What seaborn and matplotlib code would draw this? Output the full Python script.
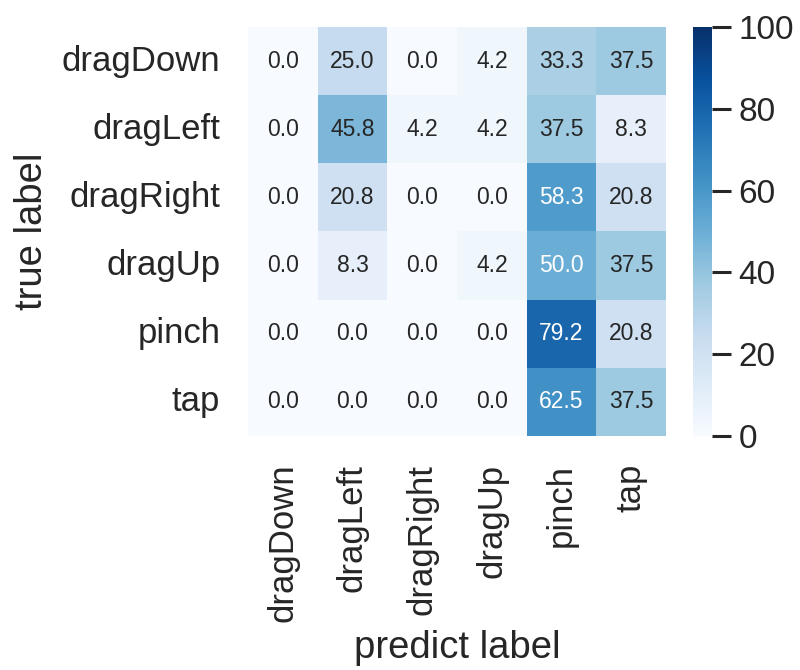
import numpy as np
import pandas as pd
import matplotlib
matplotlib.use("Agg")
import matplotlib.pyplot as plt
import seaborn as sns

# Gesture classes (rows: true label, columns: predicted label)
classes = ["dragDown", "dragLeft", "dragRight", "dragUp", "pinch", "tap"]

# Row-normalised confusion matrix, in percent
row_dragDown = [0.0, 25.0, 0.0, 4.2, 33.3, 37.5]
row_dragLeft = [0.0, 45.8, 4.2, 4.2, 37.5, 8.3]
row_dragRight = [0.0, 20.8, 0.0, 0.0, 58.3, 20.8]
row_dragUp = [0.0, 8.3, 0.0, 4.2, 50.0, 37.5]
row_pinch = [0.0, 0.0, 0.0, 0.0, 79.2, 20.8]
row_tap = [0.0, 0.0, 0.0, 0.0, 62.5, 37.5]

cm = pd.DataFrame(
    [row_dragDown, row_dragLeft, row_dragRight, row_dragUp, row_pinch, row_tap],
    index=classes, columns=classes,
)

sns.set_theme(style="white")
plt.rcParams["font.family"] = ["Liberation Sans", "DejaVu Sans"]
text_color = "#262626"

fig = plt.figure(figsize=(8.0, 6.7), dpi=100)
ax = fig.add_axes([0.31, 0.3493, 0.5225, 0.6104])
cax = fig.add_axes([0.866, 0.3493, 0.024, 0.6104])

sns.heatmap(
    cm, ax=ax, cbar_ax=cax, cmap="Blues", vmin=0, vmax=100,
    annot=True, fmt=".1f", annot_kws={"size": 16.5},
)

ax.tick_params(axis="both", length=0, pad=20, labelsize=25, colors=text_color)
plt.setp(ax.get_xticklabels(), rotation=90)
plt.setp(ax.get_yticklabels(), rotation=0)
ax.set_xlabel("predict label", fontsize=27.5, color=text_color)
ax.set_ylabel("true label", fontsize=27.5, color=text_color)
ax.yaxis.set_label_coords(-0.474, 0.5)
ax.xaxis.set_label_coords(0.5, -0.475)

cax.set_yticks([0, 20, 40, 60, 80, 100])
cax.tick_params(axis="y", length=14, width=2.2, pad=5, labelsize=24,
                colors=text_color)
for spine in cax.spines.values():
    spine.set_visible(False)

fig.savefig("out.png", dpi=100)
